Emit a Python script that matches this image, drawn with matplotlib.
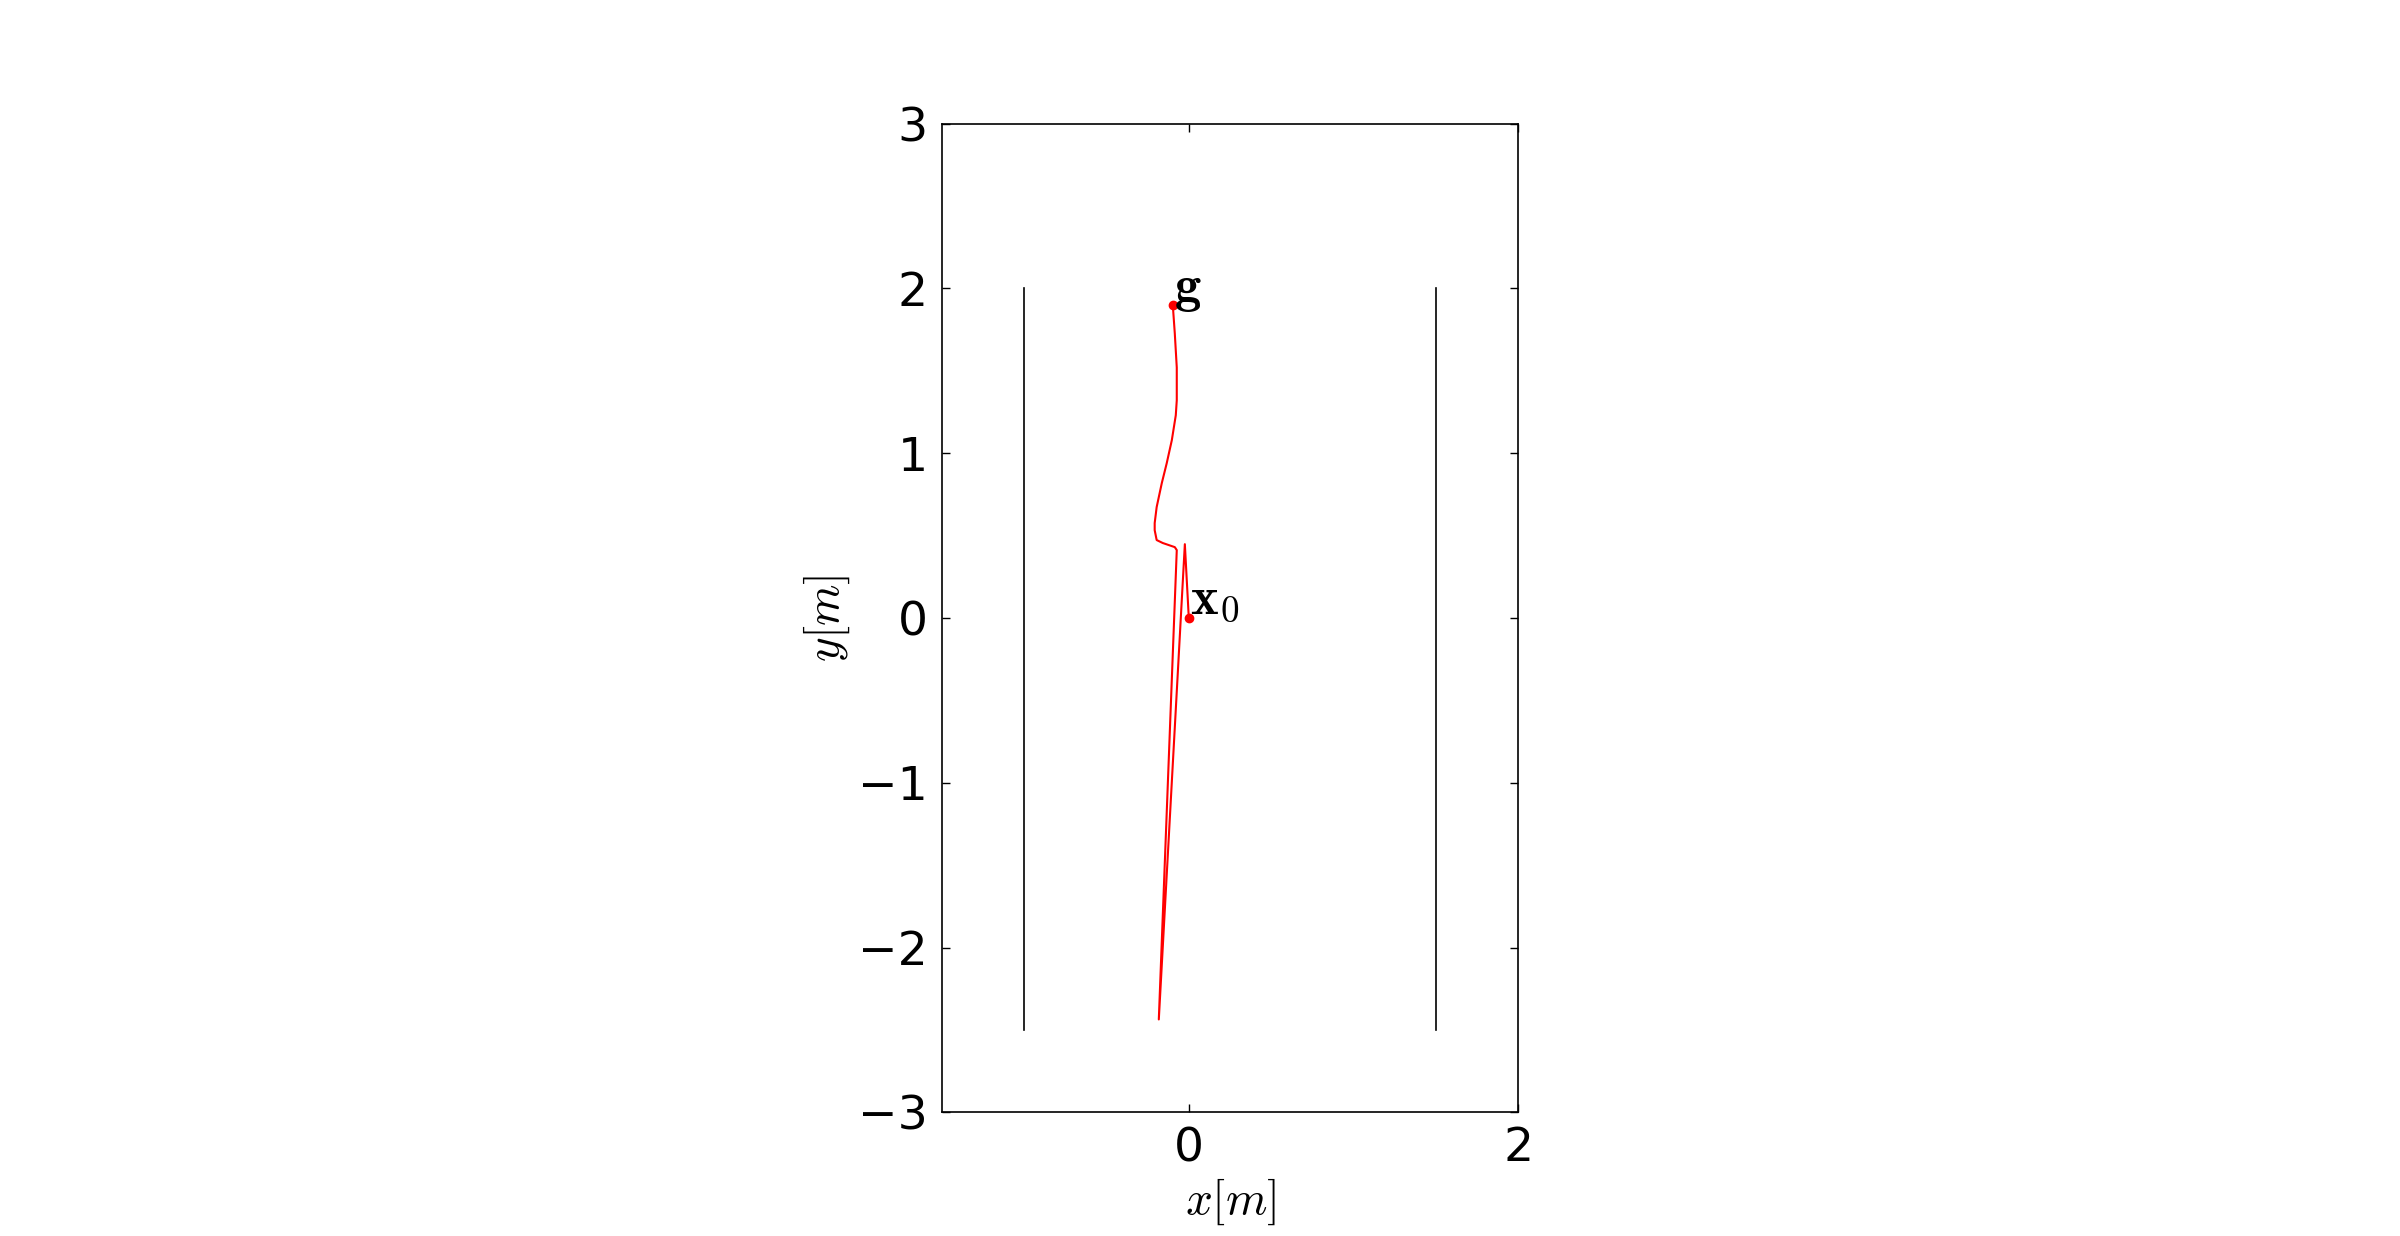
"""
Trajectory from the start point x0 to the goal g between two walls.
"""

import matplotlib
matplotlib.use("Agg")
import matplotlib.pyplot as plt

# Walls (x position, y extent)
wall_x = [-1.0, 1.5]
wall_y = [-2.5, 2.0]

# Robot path (x0 -> ... -> g)
path_x = [0.0, -0.024, -0.182, -0.073, -0.085, -0.158, -0.195, -0.207, -0.207,
          -0.195, -0.164, -0.134, -0.103, -0.079, -0.073, -0.073, -0.085, -0.097]
path_y = [0.0, 0.448, -2.436, 0.412, 0.430, 0.455, 0.473, 0.533, 0.576,
          0.673, 0.818, 0.939, 1.079, 1.230, 1.321, 1.520, 1.727, 1.897]

# Start and goal
start = (0.0, 0.0)
goal = (-0.097, 1.897)

x_ticks = [0, 2]
y_ticks = [-3, -2, -1, 0, 1, 2, 3]

plt.rcParams["mathtext.fontset"] = "cm"
plt.rcParams["xtick.direction"] = "in"
plt.rcParams["ytick.direction"] = "in"
plt.rcParams["xtick.top"] = True
plt.rcParams["ytick.right"] = True
plt.rcParams["font.size"] = 34


def main():
    fig, ax = plt.subplots(figsize=(24, 12.36), dpi=100)
    fig.subplots_adjust(left=0.125, right=0.9, bottom=0.1, top=0.9)

    # Walls
    for wx in wall_x:
        ax.plot([wx, wx], wall_y, color="k", lw=1.2)

    # Path and the two end points
    ax.plot(path_x, path_y, color="r", lw=1.5)
    ax.plot(*start, "o", color="r", ms=6, mec="r")
    ax.plot(*goal, "o", color="r", ms=6, mec="r")
    ax.text(start[0] + 0.005, start[1] + 0.03, r"$\mathbf{x}_0$", fontsize=38)
    ax.text(goal[0] + 0.01, goal[1] + 0.02, r"$\mathbf{g}$", fontsize=38)

    ax.set_xlim(-1.5, 2)
    ax.set_ylim(-3, 3)
    ax.set_xticks(x_ticks)
    ax.set_yticks(y_ticks)
    ax.set_aspect("equal")
    ax.tick_params(length=6, width=1, pad=10)
    for s in ax.spines.values():
        s.set_linewidth(1.2)

    ax.set_xlabel(r"$x[m]$")
    ax.set_ylabel(r"$y[m]$")

    fig.savefig("out.png", dpi=100)


if __name__ == "__main__":
    main()
